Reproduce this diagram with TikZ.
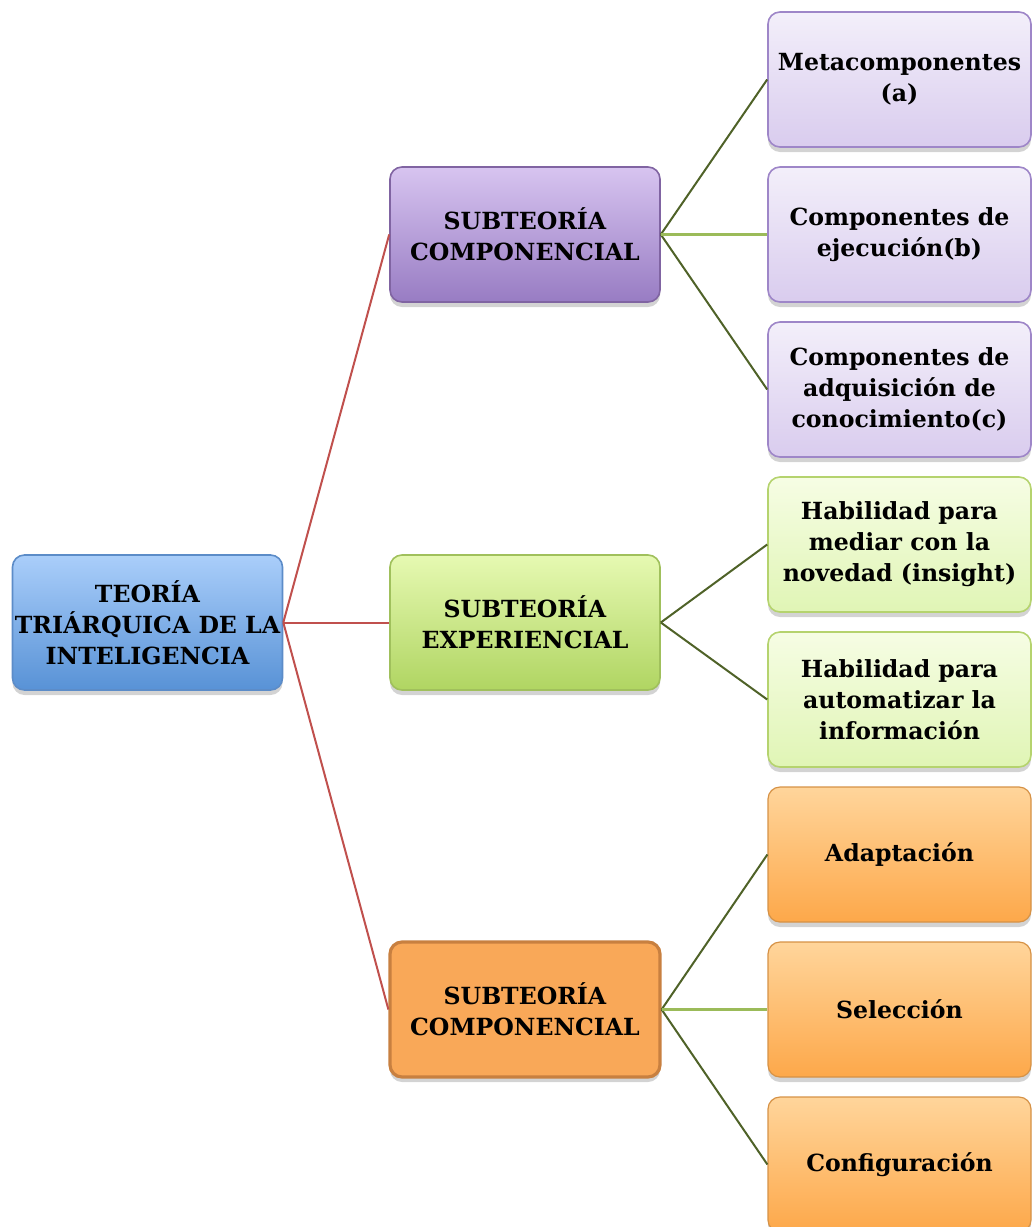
\documentclass[tikz,border=0pt]{standalone}
\usepackage{fontspec}
\setmainfont{DejaVu Serif}
\usetikzlibrary{shadows}

\definecolor{rojolinea}{HTML}{C0504D}
\definecolor{olivo}{HTML}{4F6228}
\definecolor{verdelinea}{HTML}{9BBB59}

\tikzset{
  caja/.style={rounded corners=6pt, align=center, inner sep=1pt,
    minimum width=135pt, minimum height=67.5pt,
    font=\fontsize{11.8}{15.5}\selectfont\bfseries,
    drop shadow={opacity=0.35, shadow xshift=0pt, shadow yshift=-2.5pt}},
  raiz/.style={caja, draw={rgb,255:red,92;green,140;blue,200}, line width=0.8pt,
    top color={rgb,255:red,170;green,206;blue,250}, bottom color={rgb,255:red,88;green,146;blue,214}},
  morado/.style={caja, draw={rgb,255:red,128;green,100;blue,162}, line width=0.8pt,
    top color={rgb,255:red,215;green,196;blue,240}, bottom color={rgb,255:red,152;green,124;blue,195}},
  verde/.style={caja, draw={rgb,255:red,160;green,192;blue,92}, line width=0.8pt,
    top color={rgb,255:red,230;green,249;blue,178}, bottom color={rgb,255:red,176;green,213;blue,98}},
  naranja/.style={caja, draw={rgb,255:red,200;green,128;blue,64}, line width=1.6pt,
    fill={rgb,255:red,249;green,168;blue,88}},
  hojamorada/.style={caja, minimum width=131.5pt, draw={rgb,255:red,158;green,134;blue,200}, line width=0.8pt,
    top color={rgb,255:red,243;green,239;blue,250}, bottom color={rgb,255:red,217;green,204;blue,238}},
  hojaverde/.style={caja, minimum width=131.5pt, draw={rgb,255:red,181;green,211;blue,110}, line width=0.8pt,
    top color={rgb,255:red,246;green,253;blue,228}, bottom color={rgb,255:red,224;green,245;blue,181}},
  hojanaranja/.style={caja, minimum width=131.5pt, draw={rgb,255:red,214;green,146;blue,70}, line width=0.6pt,
    top color={rgb,255:red,255;green,213;blue,155}, bottom color={rgb,255:red,253;green,168;blue,74}},
  rama/.style={draw=rojolinea, line width=1pt},
  diag/.style={draw=olivo, line width=1pt},
  recta/.style={draw=verdelinea, line width=1.3pt}
}

\begin{document}
\begin{tikzpicture}[x=0.5pt,y=-0.5pt]
  \useasboundingbox (0,0) rectangle (1032,1227);

  % raiz y subteorias
  \node[raiz] (teoria) at (147.5,622.5) {TEORÍA\\TRIÁRQUICA DE LA\\INTELIGENCIA};
  \node[morado] (comp) at (525,234.5) {SUBTEORÍA\\COMPONENCIAL};
  \node[verde] (expe) at (525,622.5) {SUBTEORÍA\\EXPERIENCIAL};
  \node[naranja] (cont) at (525,1009.5) {SUBTEORÍA\\COMPONENCIAL};

  % hojas
  \node[hojamorada] (meta) at (899.5,79.5) {Metacomponentes\\(a)};
  \node[hojamorada] (ejec) at (899.5,234.5) {Componentes de\\ejecución(b)};
  \node[hojamorada] (adqu) at (899.5,389.5) {Componentes de\\adquisición de\\conocimiento(c)};
  \node[hojaverde] (nove) at (899.5,544.5) {Habilidad para\\mediar con la\\novedad (insight)};
  \node[hojaverde] (auto) at (899.5,699.5) {Habilidad para\\automatizar la\\información};
  \node[hojanaranja] (adap) at (899.5,854.5) {Adaptación};
  \node[hojanaranja] (sele) at (899.5,1009.5) {Selección};
  \node[hojanaranja] (conf) at (899.5,1164.5) {Configuración};

  % conectores
  \foreach \m in {comp,expe,cont}{
    \draw[rama] (teoria.east) -- (\m.west);
  }
  \foreach \m\h in {comp/meta,comp/adqu,expe/nove,expe/auto,cont/adap,cont/conf}{
    \draw[diag] (\m.east) -- (\h.west);
  }
  \foreach \m\h in {comp/ejec,cont/sele}{
    \draw[recta] (\m.east) -- (\h.west);
  }
\end{tikzpicture}
\end{document}
